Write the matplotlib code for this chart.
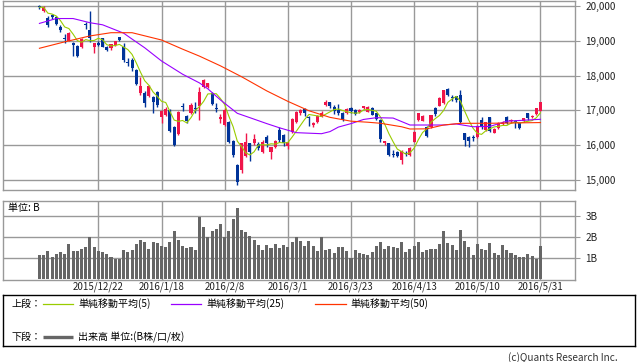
import matplotlib
matplotlib.use("Agg")
import matplotlib.pyplot as plt
import numpy as np
import pandas as pd

plt.rcParams['font.family'] = ['Noto Sans CJK JP', 'DejaVu Sans']

# ---- data ----
dates = ['2015/12/2', '2015/12/3', '2015/12/4', '2015/12/7', '2015/12/8', '2015/12/9', '2015/12/10',
         '2015/12/11', '2015/12/14', '2015/12/15', '2015/12/16', '2015/12/17', '2015/12/18',
         '2015/12/21', '2015/12/22', '2015/12/24', '2015/12/25', '2015/12/28', '2015/12/29',
         '2015/12/30',
         '2016/1/4', '2016/1/5', '2016/1/6', '2016/1/7', '2016/1/8', '2016/1/12', '2016/1/13',
         '2016/1/14', '2016/1/15', '2016/1/18', '2016/1/19', '2016/1/20', '2016/1/21', '2016/1/22',
         '2016/1/25', '2016/1/26', '2016/1/27', '2016/1/28', '2016/1/29',
         '2016/2/1', '2016/2/2', '2016/2/3', '2016/2/4', '2016/2/5', '2016/2/8', '2016/2/9',
         '2016/2/10', '2016/2/12', '2016/2/15', '2016/2/16', '2016/2/17', '2016/2/18', '2016/2/19',
         '2016/2/22', '2016/2/23', '2016/2/24', '2016/2/25', '2016/2/26', '2016/2/29',
         '2016/3/1', '2016/3/2', '2016/3/3', '2016/3/4', '2016/3/7', '2016/3/8', '2016/3/9',
         '2016/3/10', '2016/3/11', '2016/3/14', '2016/3/15', '2016/3/16', '2016/3/17', '2016/3/18',
         '2016/3/22', '2016/3/23', '2016/3/24', '2016/3/25', '2016/3/28', '2016/3/29', '2016/3/30',
         '2016/3/31',
         '2016/4/1', '2016/4/4', '2016/4/5', '2016/4/6', '2016/4/7', '2016/4/8', '2016/4/11',
         '2016/4/12', '2016/4/13', '2016/4/14', '2016/4/15', '2016/4/18', '2016/4/19', '2016/4/20',
         '2016/4/21', '2016/4/22', '2016/4/25', '2016/4/26', '2016/4/27', '2016/4/28',
         '2016/5/2', '2016/5/6', '2016/5/9', '2016/5/10', '2016/5/11', '2016/5/12', '2016/5/13',
         '2016/5/16', '2016/5/17', '2016/5/18', '2016/5/19', '2016/5/20', '2016/5/23', '2016/5/24',
         '2016/5/25', '2016/5/26', '2016/5/27', '2016/5/30', '2016/5/31']

opens = [19990, 19860, 19650, 19740, 19690, 19400, 19070, 19003, 18930, 18860, 18830, 19480, 19310,
         18830, 18946, 19070, 18830, 18780, 18880, 19100,
         18830, 18400, 18448, 18161, 17509, 17490, 17414, 17394, 17537, 16800, 16868, 17011, 16532,
         16313, 17130, 16839, 16935, 17060, 17126,
         17681, 17681, 17490, 17060, 16744, 16580, 16676, 16121, 15431, 15290, 15680, 16054, 16073,
         16034, 15813, 16226, 15813, 15957, 16430, 16300,
         15980, 16371, 16676, 16916, 17031, 16820, 16585, 16676, 16820, 17155, 17230, 17100, 17010,
         16916, 16916, 17060, 17011, 16960, 17060, 16963, 17078, 16916,
         16724, 16054, 16054, 15760, 15790, 15575, 15770, 15718, 16100, 16724, 16705, 16532, 16532,
         17060, 17136, 17204, 17615, 17380, 17400, 17443,
         16340, 16245, 16230, 16226, 16724, 16437, 16800, 16360, 16485, 16610, 16820, 16690, 16700,
         16628, 16695, 16916, 16800, 16887, 16983]
highs = [20040, 19990, 19720, 19780, 19720, 19450, 19200, 19260, 18960, 18870, 19080, 19530, 19860,
         18950, 18990, 19090, 18850, 18920, 19000, 19120,
         18950, 18520, 18520, 18180, 17969, 17560, 17730, 17420, 17560, 17000, 17100, 17050, 16560,
         16970, 17200, 16860, 17200, 17250, 17681,
         17900, 17800, 17520, 17200, 16896, 17069, 16700, 16150, 15450, 16060, 16340, 16070, 16320,
         16100, 16150, 16300, 15960, 16160, 16520, 16320,
         16110, 16790, 16970, 17050, 17080, 16850, 16680, 16880, 16970, 17290, 17250, 17150, 17180,
         16960, 17070, 17100, 17030, 17040, 17140, 17130, 17100, 16930,
         16740, 16130, 16060, 15870, 15830, 15860, 15830, 15950, 16400, 16930, 16880, 16560, 16880,
         17100, 17380, 17590, 17640, 17450, 17420, 17580,
         16360, 16260, 16300, 16590, 16800, 16680, 16820, 16500, 16660, 16700, 16840, 16760, 16720,
         16640, 16790, 16930, 16870, 17070, 17250]
lows = [19920, 19840, 19410, 19640, 19450, 19250, 18950, 18990, 18560, 18540, 18800, 19330, 18970,
        18640, 18850, 18810, 18720, 18750, 18860, 19000,
        18390, 18270, 18140, 17740, 17443, 17100, 17380, 16916, 17100, 16646, 16830, 16388, 15977,
        16300, 16990, 16640, 16900, 16920, 16724,
        17650, 17650, 17150, 16960, 16628, 16560, 16050, 15670, 14865, 15200, 15670, 15545, 16000,
        15850, 15780, 15960, 15600, 15930, 16100, 15980,
        15900, 16350, 16650, 16880, 16850, 16560, 16520, 16650, 16800, 17140, 17080, 16900, 16870,
        16700, 16900, 16916, 16870, 16930, 17040, 16940, 16860, 16720,
        16100, 16000, 15698, 15650, 15650, 15450, 15700, 15700, 16080, 16700, 16690, 16230, 16500,
        16850, 17120, 17180, 17400, 17280, 17250, 16628,
        15980, 15960, 16120, 16200, 16470, 16420, 16390, 16340, 16470, 16590, 16600, 16650, 16480,
        16470, 16680, 16730, 16780, 16860, 16970]
closes = [19965, 19960, 19460, 19690, 19490, 19300, 19050, 19230, 18890, 18565, 19049, 19440, 19070,
          18930, 18870, 18830, 18740, 18900, 18982, 19033,
          18450, 18374, 18209, 17767, 17700, 17218, 17715, 17240, 17147, 16983, 17048, 16416, 16017,
          16958, 17110, 16708, 17163, 17041, 17518,
          17865, 17780, 17191, 17044, 16819, 17004, 16085, 15713, 14952, 16054, 16090, 15790, 16170,
          15920, 16100, 16052, 15957, 16121, 16150, 16050,
          16085, 16747, 16960, 17011, 16911, 16784, 16650, 16852, 16939, 17233, 17117, 16974, 16937,
          16725, 17048, 16990, 16892, 17002, 17135, 17107, 16878, 16758,
          16164, 16123, 15732, 15715, 15700, 15821, 15751, 15928, 16381, 16911, 16848, 16275, 16874,
          16906, 17363, 17572, 17440, 17353, 17290, 16666,
          16147, 16106, 16216, 16565, 16520, 16657, 16412, 16467, 16652, 16650, 16646, 16736, 16654,
          16498, 16772, 16772, 16834, 17060, 17232]

# volume in billions of shares
volume = [1.15, 1.15, 1.34, 1.03, 1.2, 1.29, 1.2, 1.66, 1.34, 1.34, 1.45, 1.52, 1.97, 1.52, 1.32,
          1.28, 1.2, 1.03, 0.97, 0.97,
          1.38, 1.29, 1.38, 1.66, 1.85, 1.75, 1.43, 1.75, 1.71, 1.57, 1.52, 1.75, 2.26, 1.85, 1.57,
          1.46, 1.52, 1.38, 2.91,
          2.45, 1.97, 2.26, 2.35, 2.58, 1.98, 2.26, 2.82, 3.37, 2.31, 2.22, 2.03, 1.85, 1.62, 1.38,
          1.62, 1.48, 1.66, 1.48, 1.62,
          1.52, 1.75, 1.97, 1.8, 1.57, 1.8, 1.57, 1.34, 1.97, 1.38, 1.43, 1.25, 1.52, 1.52, 1.34,
          1.02, 1.38, 1.25, 1.2, 1.15, 1.29, 1.57,
          1.75, 1.43, 1.57, 1.52, 1.48, 1.75, 1.29, 1.43, 1.57, 1.75, 1.29, 1.38, 1.43, 1.43, 1.66,
          2.26, 1.71, 1.62, 1.38, 2.31,
          1.8, 1.52, 1.15, 1.66, 1.43, 1.38, 1.71, 1.25, 1.15, 1.62, 1.38, 1.25, 1.15, 1.06, 1.06,
          1.2, 1.11, 0.97, 1.57]

# moving averages (bar index -> value)
ma25_idx = [0, 4, 8, 12, 15, 20, 22, 25, 29, 34, 38, 40, 43, 47, 50, 54, 57, 61, 67, 69, 71, 74,
            77, 80, 84, 88, 96, 99, 103, 107, 111, 119]
ma25_val = [19500, 19640, 19640, 19520, 19460, 19220, 19050, 18800, 18420, 18040, 17790, 17620,
            17300, 16916, 16790, 16620, 16500, 16360, 16330, 16390, 16520, 16620, 16740, 16790,
            16780, 16580, 16580, 16610, 16530, 16540, 16690, 16744]
ma50_idx = [0, 6, 12, 17, 22, 29, 34, 38, 43, 48, 54, 59, 64, 69, 74, 78, 81, 86, 88, 92, 96, 100,
            107, 119]
ma50_val = [18785, 18970, 19140, 19233, 19233, 19023, 18760, 18560, 18280, 17968, 17560, 17260,
            16990, 16800, 16690, 16660, 16630, 16530, 16465, 16470, 16580, 16628, 16630, 16650]

label_dates = ['2015/12/22', '2016/1/18', '2016/2/8', '2016/3/1', '2016/3/23', '2016/4/13',
               '2016/5/10', '2016/5/31']
price_ticks = [15000, 16000, 17000, 18000, 19000, 20000]
vol_ticks = [1, 2, 3]

UP = '#f0154a'
DOWN = '#003399'
GRID = '#999999'

W, H = 638, 362
fig = plt.figure(figsize=(W / 100, H / 100), dpi=100)

def rect(x0, y0, x1, y1):
    return [x0 / W, 1 - y1 / H, (x1 - x0) / W, (y1 - y0) / H]

ax = fig.add_axes(rect(3, 1, 575, 190))
axv = fig.add_axes(rect(3, 201, 575, 280))
axl = fig.add_axes(rect(3, 295, 635, 346))

idx = np.arange(len(dates))
o = np.array(opens); h = np.array(highs); l = np.array(lows); c = np.array(closes)
up = c >= o
cols = np.where(up, UP, DOWN)
ma5 = pd.Series(closes).rolling(5, min_periods=1).mean()
label_pos = [dates.index(d) for d in label_dates]

# both panels share the same x grid and frame style
for a in (ax, axv):
    a.set_xlim(-8.65, 127.2)
    for p in label_pos:
        a.axvline(p, color=GRID, lw=1, zorder=0)
    for s in a.spines.values():
        s.set_color(GRID)
        s.set_linewidth(1)
    a.yaxis.tick_right()
    a.tick_params(axis='y', length=3.5, color=GRID, pad=4, labelsize=7.2, labelcolor='#222222')
    a.tick_params(axis='x', length=0)

# price panel
for v in price_ticks:
    ax.axhline(v, color=GRID, lw=1, zorder=0)
ax.vlines(idx, l, h, colors=cols, lw=1, zorder=2)
ax.bar(idx, np.maximum(np.abs(c - o), 25), bottom=np.minimum(o, c), width=0.72, color=cols,
       linewidth=0, zorder=3)
ax.plot(idx, ma5, color='#99cc00', lw=0.8, zorder=4)
ax.plot(ma25_idx, ma25_val, color='#9900ff', lw=0.8, zorder=4)
ax.plot(ma50_idx, ma50_val, color='#ff3300', lw=0.8, zorder=4)
ax.set_ylim(14712, 20144)
ax.set_yticks(price_ticks)
ax.set_yticklabels([f'{v:,}' for v in price_ticks])
ax.set_xticks([])

# volume panel
for v in vol_ticks:
    axv.axhline(v, color=GRID, lw=1, zorder=0)
axv.bar(idx, volume, width=0.72, color='#666666', linewidth=0, zorder=3)
axv.set_ylim(-0.03, 3.685)
axv.set_yticks(vol_ticks)
axv.set_yticklabels([f'{v}B' for v in vol_ticks])
axv.set_xticks(label_pos)
axv.set_xticklabels(label_dates, fontsize=7, color='#222222')
axv.tick_params(axis='x', pad=1.2)
axv.text(0.009, 0.97, '単位: B', transform=axv.transAxes, fontsize=7.2, va='top', ha='left')

# legend box (pixel coordinates inside)
axl.set_xlim(3, 635)
axl.set_ylim(346, 295)
axl.set_xticks([]); axl.set_yticks([])
for s in axl.spines.values():
    s.set_color('black')
    s.set_linewidth(1)
fs = 7.2
axl.text(12, 304, '上段：', fontsize=fs, va='center')
axl.plot([43, 73], [304, 304], color='#99cc00', lw=0.9)
axl.text(78, 304, '単純移動平均(5)', fontsize=fs, va='center')
axl.plot([171, 201], [304, 304], color='#9900ff', lw=0.9)
axl.text(206, 304, '単純移動平均(25)', fontsize=fs, va='center')
axl.plot([315, 346], [304, 304], color='#ff3300', lw=0.9)
axl.text(350, 304, '単純移動平均(50)', fontsize=fs, va='center')
axl.text(12, 337, '下段：', fontsize=fs, va='center')
axl.plot([43, 73], [337, 337], color='#666666', lw=2.4, solid_capstyle='butt')
axl.text(78, 337, '出来高 単位:(B株/口/枚)', fontsize=fs, va='center')

fig.text(618 / W, 1 - 358 / H, '(c)Quants Research Inc.', fontsize=7.2, ha='right', va='center',
         color='#333333')

fig.savefig('out.png', dpi=100)
